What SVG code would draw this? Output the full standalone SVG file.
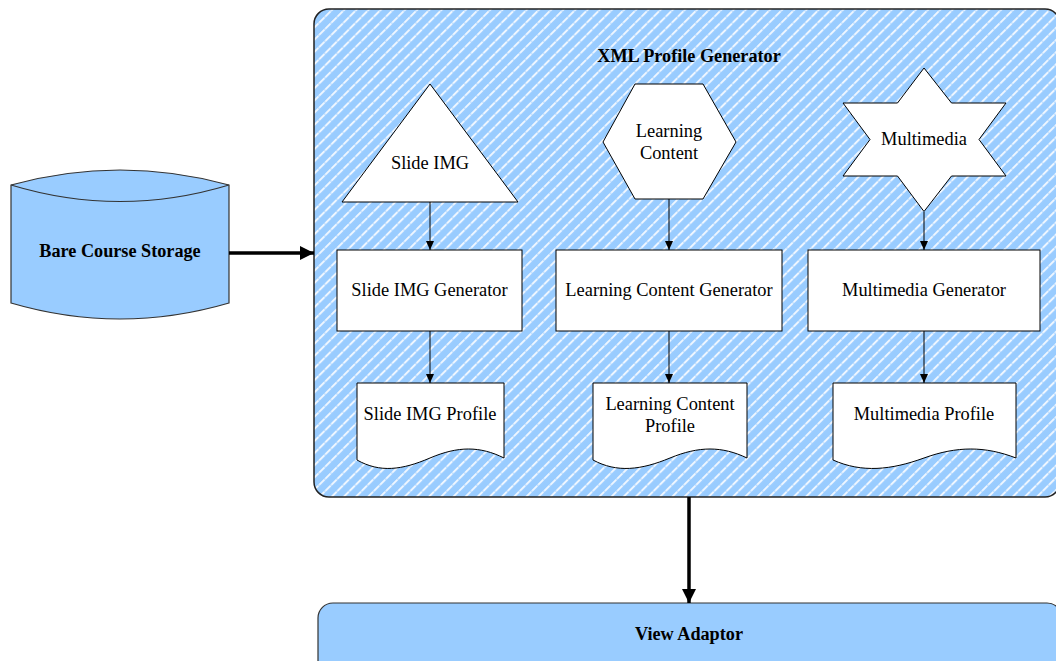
<svg xmlns="http://www.w3.org/2000/svg" width="1056" height="661" viewBox="0 0 1056 661">
  <style>
    .shape { fill: #ffffff; stroke: #000000; stroke-width: 1; }
    .blue { fill: #99ccff; stroke: #333333; stroke-width: 1.2; }
    .lbl { font-family: "Liberation Serif", "Times New Roman", serif; font-size: 18.4px; fill: #000000; text-anchor: middle; }
    .bold { font-weight: bold; font-size: 18.2px; }
    .thin { stroke: #000000; stroke-width: 1; fill: none; }
    .thick { stroke: #000000; stroke-width: 3.5; fill: none; }
  </style>
  <defs>
    <pattern id="stripes" patternUnits="userSpaceOnUse" width="8.6" height="8.6" patternTransform="rotate(45)">
      <rect width="8.6" height="8.6" fill="#99ccff"/>
      <line x1="1" y1="0" x2="1" y2="8.6" stroke="#eef6ff" stroke-width="2" stroke-dasharray="5.5 0.8"/>
    </pattern>
    <marker id="headSmall" markerWidth="10" markerHeight="10" refX="9" refY="5" orient="auto" markerUnits="userSpaceOnUse">
      <path d="M0,1 L9,5 L0,9 Z" fill="#000000"/>
    </marker>
    <marker id="headBig" markerWidth="16" markerHeight="16" refX="14" refY="8" orient="auto" markerUnits="userSpaceOnUse">
      <path d="M0,1 L14,8 L0,15 Z" fill="#000000"/>
    </marker>
  </defs>

  <!-- container: XML Profile Generator -->
  <g id="xml-profile-generator">
    <rect x="314" y="9" width="746" height="488" rx="15" ry="15" fill="url(#stripes)" stroke="#222222" stroke-width="1.5"/>
    <text class="lbl bold" x="689" y="62">XML Profile Generator</text>
  </g>

  <!-- storage cylinder -->
  <g id="bare-course-storage">
    <path class="blue" d="M11,185 Q120,155 229,185 L229,303 Q120,335 11,303 Z"/>
    <path class="blue" fill="none" d="M11,185 Q120,218 229,185"/>
    <text class="lbl bold" x="120" y="257">Bare Course Storage</text>
  </g>

  <!-- sources -->
  <g id="slide-img">
    <polygon class="shape" points="430,84 518,202 342,202"/>
    <text class="lbl" x="430" y="169">Slide IMG</text>
  </g>
  <g id="learning-content">
    <polygon class="shape" points="635,84 703,84 736,142 703,199 635,199 603,142"/>
    <text class="lbl" x="669" y="137">Learning</text>
    <text class="lbl" x="669" y="159">Content</text>
  </g>
  <g id="multimedia">
    <polygon class="shape" points="924,68 951.5,103 1006,103 979,139.5 1006,176 951.5,176 924,211.5 897.5,176 843,176 870,139.5 843,103 897.5,103"/>
    <text class="lbl" x="924" y="145">Multimedia</text>
  </g>

  <!-- generators -->
  <g id="slide-img-generator">
    <rect class="shape" x="337" y="250" width="185" height="81"/>
    <text class="lbl" x="429.5" y="296">Slide IMG Generator</text>
  </g>
  <g id="learning-content-generator">
    <rect class="shape" x="556" y="250" width="226" height="81"/>
    <text class="lbl" x="669" y="296">Learning Content Generator</text>
  </g>
  <g id="multimedia-generator">
    <rect class="shape" x="808" y="250" width="232" height="81"/>
    <text class="lbl" x="924" y="296">Multimedia Generator</text>
  </g>

  <!-- profiles (document shapes) -->
  <g id="slide-img-profile">
    <path class="shape" d="M357,383 H504 V458 C480,446 458,446 430,458 C402,470 380,473 357,460 Z"/>
    <text class="lbl" x="430" y="420">Slide IMG Profile</text>
  </g>
  <g id="learning-content-profile">
    <path class="shape" d="M593,383 H747 V458 C722,446 699,446 670,458 C641,470 617,473 593,460 Z"/>
    <text class="lbl" x="670" y="410">Learning Content</text>
    <text class="lbl" x="670" y="432">Profile</text>
  </g>
  <g id="multimedia-profile">
    <path class="shape" d="M833,383 H1016 V458 C985,446 957,446 924,458 C891,470 862,473 833,460 Z"/>
    <text class="lbl" x="924" y="420">Multimedia Profile</text>
  </g>

  <!-- view adaptor -->
  <g id="view-adaptor">
    <rect class="blue" x="318" y="603" width="744" height="80" rx="15" ry="15"/>
    <text class="lbl bold" x="689" y="640">View Adaptor</text>
  </g>

  <!-- connectors -->
  <g id="connectors">
    <line class="thin" x1="430" y1="202" x2="430" y2="250" marker-end="url(#headSmall)"/>
    <line class="thin" x1="669" y1="199" x2="669" y2="250" marker-end="url(#headSmall)"/>
    <line class="thin" x1="924" y1="212" x2="924" y2="250" marker-end="url(#headSmall)"/>
    <line class="thin" x1="430" y1="331" x2="430" y2="383" marker-end="url(#headSmall)"/>
    <line class="thin" x1="669" y1="331" x2="669" y2="383" marker-end="url(#headSmall)"/>
    <line class="thin" x1="924" y1="331" x2="924" y2="383" marker-end="url(#headSmall)"/>
    <line class="thick" x1="229" y1="253" x2="314" y2="253" marker-end="url(#headBig)"/>
    <line class="thick" x1="689" y1="497" x2="689" y2="603" marker-end="url(#headBig)"/>
  </g>
</svg>
